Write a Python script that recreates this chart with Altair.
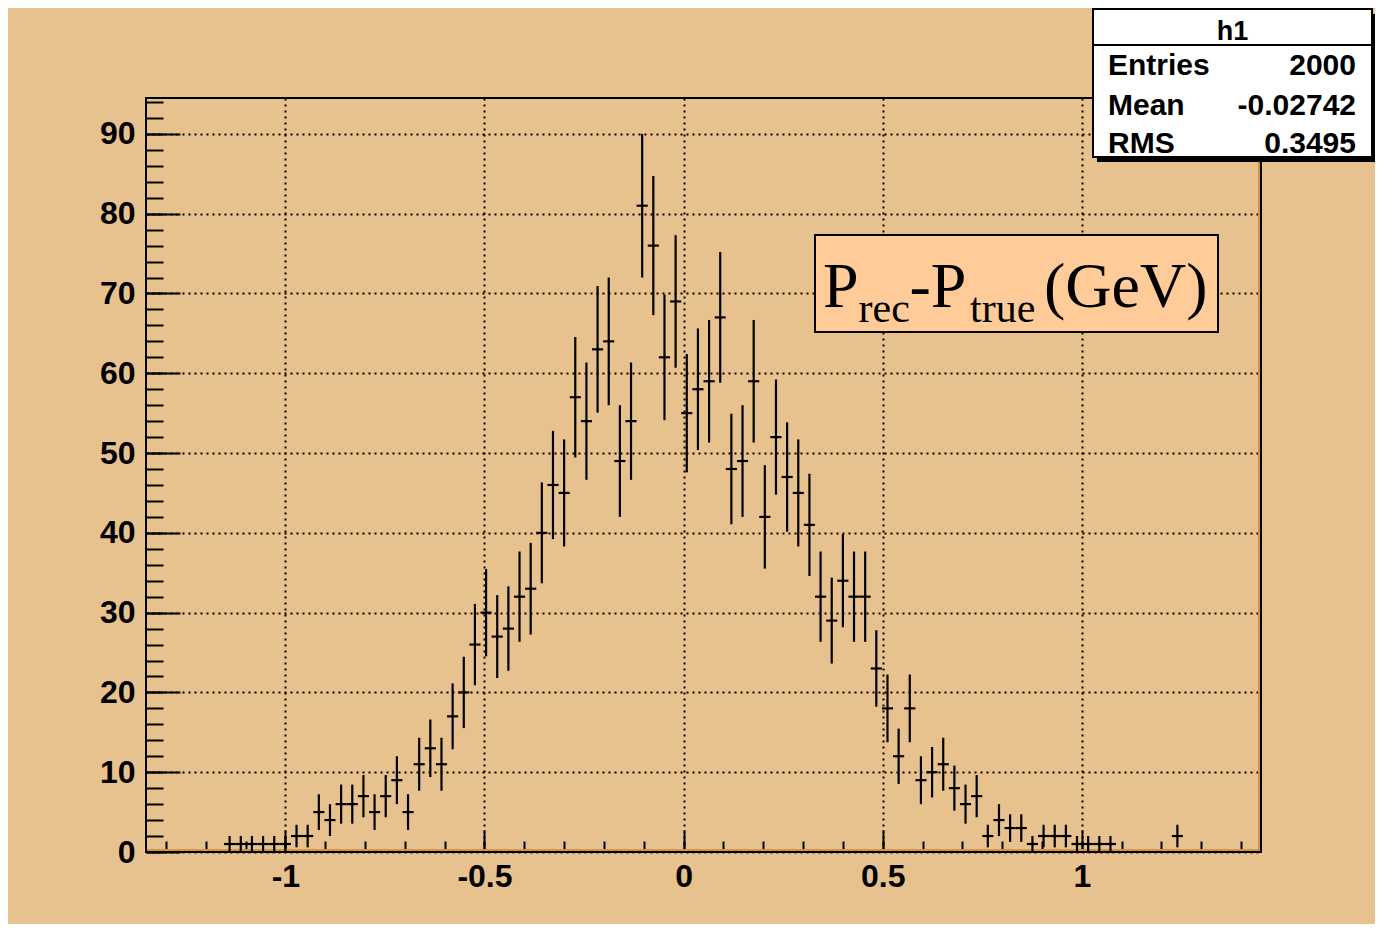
import altair as alt
import pandas as pd

# ---------------- data ----------------
bin_centers = [-1.140, -1.112, -1.084, -1.056, -1.028, -1.000, -0.972, -0.944,
               -0.916, -0.888, -0.860, -0.832, -0.804, -0.776, -0.748, -0.720,
               -0.692, -0.664, -0.636, -0.608, -0.580, -0.552, -0.524, -0.496,
               -0.468, -0.440, -0.412, -0.384, -0.356, -0.328, -0.300, -0.272,
               -0.244, -0.216, -0.188, -0.160, -0.132, -0.104, -0.076, -0.048,
               -0.020, 0.008, 0.036, 0.064, 0.092, 0.120, 0.148, 0.176,
               0.204, 0.232, 0.260, 0.288, 0.316, 0.344, 0.372, 0.400,
               0.428, 0.456, 0.484, 0.512, 0.540, 0.568, 0.596, 0.624,
               0.652, 0.680, 0.708, 0.736, 0.764, 0.792, 0.820, 0.848,
               0.876, 0.904, 0.932, 0.960, 0.988, 1.016, 1.044, 1.072,
               1.240]
counts = [1, 1, 1, 1, 1, 1, 2, 2,
          5, 4, 6, 6, 7, 5, 7, 9,
          5, 11, 13, 11, 17, 20, 26, 30,
          27, 28, 32, 33, 40, 46, 45, 57,
          54, 63, 64, 49, 54, 81, 76, 62,
          69, 55, 58, 59, 67, 48, 49, 59,
          42, 52, 47, 45, 41, 32, 29, 34,
          32, 32, 23, 18, 12, 18, 9, 10,
          11, 8, 6, 7, 2, 4, 3, 3,
          1, 2, 2, 2, 1, 1, 1, 1,
          2]
bin_width = 0.028

x_domain = [-1.35, 1.45]
y_domain = [0, 94.5]
x_major_ticks = [-1, -0.5, 0, 0.5, 1]
x_minor_ticks = [round(-1.3 + 0.1 * k, 2) for k in range(28)]
y_major_ticks = [0, 10, 20, 30, 40, 50, 60, 70, 80, 90]
y_minor_ticks = [2 * k for k in range(48)]

stats_title = "h1"
stat_names = ["Entries", "Mean", "RMS"]
stat_values = ["2000", "-0.02742", "0.3495"]

label_parts = [("P", "main"), ("rec", "sub"), ("-P", "main"), ("true", "sub"), ("(GeV)", "main")]

# ---------------- layout ----------------
W, H = 1115, 754
BG = "#E8C28E"
FRAME_EDGE = "#D49440"
SANS = "Liberation Sans"
SERIF = "Liberation Serif"

df = pd.DataFrame({"center": bin_centers, "n": counts})

xs = alt.Scale(domain=x_domain, nice=False, zero=False)
ys = alt.Scale(domain=y_domain, nice=False, zero=False)

base = alt.Chart(df).transform_calculate(
    lo=f"datum.center - {bin_width / 2}",
    hi=f"datum.center + {bin_width / 2}",
    err="sqrt(datum.n)",
).transform_calculate(
    elo="max(0, datum.n - datum.err)",
    ehi="datum.n + datum.err",
)

grid_kw = dict(grid=True, gridColor="black", gridDash=[2, 4], gridWidth=2, gridOpacity=1)
label_kw = dict(labelFont=SANS, labelFontSize=32, labelFontWeight="bold", labelColor="black",
                labelOverlap=False, labelFlush=False)

main_x_axis = alt.Axis(orient="bottom", values=x_major_ticks, labelExpr="'' + datum.value",
                       tickSize=0, domain=False, labelPadding=9, title=None, **grid_kw, **label_kw)
main_y_axis = alt.Axis(orient="left", values=y_major_ticks, tickSize=0, domain=False,
                       labelPadding=11, labelBaseline="middle", title=None, **grid_kw, **label_kw)

def tick_axis(orient, offset, values, size):
    return alt.Axis(orient=orient, offset=offset, values=values, labels=False, domain=False,
                    grid=False, ticks=True, tickSize=size, tickWidth=2, tickColor="black",
                    title=None)

hbars = base.mark_rule(color="black", strokeWidth=2.2).encode(
    x=alt.X("lo:Q", scale=xs, axis=main_x_axis),
    x2="hi:Q",
    y=alt.Y("n:Q", scale=ys, axis=main_y_axis),
)
vbars = base.mark_rule(color="black", strokeWidth=2.2).encode(
    x=alt.X("center:Q", scale=xs, axis=tick_axis("top", -H, x_major_ticks, 22)),
    y=alt.Y("elo:Q", scale=ys, axis=tick_axis("right", -W, y_major_ticks, 34)),
    y2="ehi:Q",
)
ghost = base.mark_point(opacity=0).encode(
    x=alt.X("center:Q", scale=xs, axis=tick_axis("top", -H, x_minor_ticks, 11)),
    y=alt.Y("n:Q", scale=ys, axis=tick_axis("right", -W, y_minor_ticks, 17)),
)

one = alt.Data(values=[{"k": 1}])

# bevelled frame edge (inside bottom and right)
edge_b = alt.Chart(one).mark_rule(color=FRAME_EDGE, strokeWidth=2).encode(
    x=alt.value(1), x2=alt.value(W - 1), y=alt.value(H - 2))
edge_r = alt.Chart(one).mark_rule(color=FRAME_EDGE, strokeWidth=2).encode(
    x=alt.value(W - 2), y=alt.value(1), y2=alt.value(H - 1))

# stats box
sx0, sx1, sy0, sy1 = 947, 1226, -89, 59
shadow = alt.Chart(one).mark_rect(color="black").encode(
    x=alt.value(sx0 + 4), x2=alt.value(sx1 + 3), y=alt.value(sy0 + 5), y2=alt.value(sy1 + 5))
sbox = alt.Chart(one).mark_rect(fill="white", stroke="black", strokeWidth=2).encode(
    x=alt.value(sx0), x2=alt.value(sx1), y=alt.value(sy0), y2=alt.value(sy1))
sline = alt.Chart(one).mark_rule(color="black", strokeWidth=2).encode(
    x=alt.value(sx0), x2=alt.value(sx1), y=alt.value(-53))
stitle = alt.Chart(one).mark_text(font=SANS, fontSize=27, fontWeight="bold", color="black",
                                  align="center", baseline="alphabetic").encode(
    x=alt.value((sx0 + sx1) / 2), y=alt.value(-58), text=alt.value(stats_title))
stat_layers = []
row_y = [-23, 17, 55]
for name, val, yy in zip(stat_names, stat_values, row_y):
    stat_layers.append(alt.Chart(one).mark_text(font=SANS, fontSize=30, fontWeight="bold", color="black",
                                                align="left", baseline="alphabetic").encode(
        x=alt.value(962), y=alt.value(yy), text=alt.value(name)))
    stat_layers.append(alt.Chart(one).mark_text(font=SANS, fontSize=30, fontWeight="bold", color="black",
                                                align="right", baseline="alphabetic").encode(
        x=alt.value(1210), y=alt.value(yy), text=alt.value(val)))

# quantity label box
lbox = alt.Chart(one).mark_rect(fill="#FFCC99", stroke="black", strokeWidth=2).encode(
    x=alt.value(669), x2=alt.value(1072), y=alt.value(137), y2=alt.value(234))
part_x = [677, 712.5, 763.5, 824, 898]
label_layers = []
for (txt, kind), px in zip(label_parts, part_x):
    size = 64 if kind == "main" else 42
    py = 209 if kind == "main" else 224
    label_layers.append(alt.Chart(one).mark_text(font=SERIF, fontSize=size, color="black",
                                                 align="left", baseline="alphabetic").encode(
        x=alt.value(px), y=alt.value(py), text=alt.value(txt)))

chart = alt.layer(
    edge_b, edge_r, hbars, vbars, ghost, shadow, sbox, sline, stitle, *stat_layers, lbox, *label_layers
).resolve_axis(
    x="independent", y="independent"
).properties(
    width=W, height=H,
    autosize=alt.AutoSizeParams(type="none"),
    padding={"left": 138, "top": 90, "right": 114, "bottom": 72},
    background=BG,
).configure_view(
    stroke="black", strokeWidth=2, fill=BG
)

chart.save("out.html", embed_options={"renderer": "svg", "actions": False})
